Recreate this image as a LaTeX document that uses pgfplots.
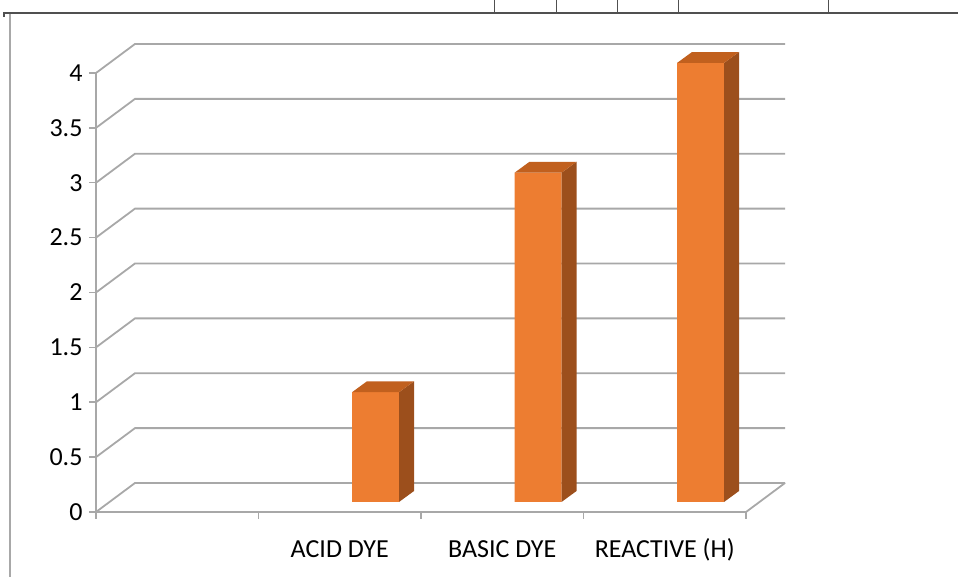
\documentclass[border=0pt]{standalone}
\usepackage{fontspec}
\setmainfont{Carlito}
\usepackage{pgfplots}
\pgfplotsset{compat=1.18}
\definecolor{barfront}{HTML}{ED7D31}
\definecolor{barside}{HTML}{9C4F1C}
\definecolor{bartop}{HTML}{C1601E}
\definecolor{gridc}{HTML}{A8A8A8}
\definecolor{framec}{HTML}{505050}

\begin{document}
\begin{tikzpicture}[x=1pt,y=1pt]
\path[use as bounding box] (0,0) rectangle (958,577);
% table borders round the chart
\draw[line width=1.5pt, framec] (4,564) -- (958,564);
\foreach \x in {494,556,617,678,828} \draw[line width=1pt, framec] (\x,577) -- (\x,564);
\draw[line width=1.5pt, framec] (4,564.75) -- (4,560);
\draw[line width=1.2pt, gridc] (10,563) -- (10,0);

\begin{axis}[
  at={(96pt,65pt)}, anchor=south west,
  x=162.5pt, y=109.75pt,
  xmin=0, xmax=4, ymin=0, ymax=4,
  clip=false,
  axis lines=left,
  axis line style={draw=gridc, line width=1.8pt, -},
  tick align=outside,
  major tick length=7pt,
  tick style={draw=gridc, line width=1.5pt},
  ytick={0,0.5,1,1.5,2,2.5,3,3.5,4},
  xtick={0,1,2,3,4},
  xticklabels={},
  extra x ticks={1.5,2.5,3.5},
  extra x tick labels={ACID DYE, BASIC DYE, REACTIVE (H)},
  extra x tick style={major tick length=0pt, tick style={draw=none}},
  /pgf/number format/assume math mode=true,
  ticklabel style={font=\fontsize{26}{31}\selectfont, text=black},
  yticklabel style={xshift=-3pt},
  xticklabel style={anchor=base, yshift=-46pt},
]
% back wall and floor
\pgfplotsinvokeforeach{0,0.5,1,1.5,2,2.5,3,3.5,4}{
  \draw[gridc, line width=1.8pt] (axis cs:0,#1) -- ++(39pt,29pt) -- ([shift={(39pt,29pt)}]axis cs:4,#1);
}
\draw[gridc, line width=1.8pt] (axis cs:4,0) -- ++(39pt,29pt);

% bars: front faces
\addplot[ybar, bar width=47pt, fill=barfront, draw=none, yshift=10pt]
  coordinates {(1.72,1) (2.72,3) (3.72,4)};
% side faces
\addplot[fill=barside, draw=none, yshift=10pt] coordinates {(1.8646,0) (1.8646,1) (1.9569,1.1) (1.9569,0.1)} -- cycle;
\addplot[fill=barside, draw=none, yshift=10pt] coordinates {(2.8646,0) (2.8646,3) (2.9569,3.1) (2.9569,0.1)} -- cycle;
\addplot[fill=barside, draw=none, yshift=10pt] coordinates {(3.8646,0) (3.8646,4) (3.9569,4.1) (3.9569,0.1)} -- cycle;
% top faces
\addplot[fill=bartop, draw=none, yshift=10pt] coordinates {(1.5754,1) (1.8646,1) (1.9569,1.1) (1.6677,1.1)} -- cycle;
\addplot[fill=bartop, draw=none, yshift=10pt] coordinates {(2.5754,3) (2.8646,3) (2.9569,3.1) (2.6677,3.1)} -- cycle;
\addplot[fill=bartop, draw=none, yshift=10pt] coordinates {(3.5754,4) (3.8646,4) (3.9569,4.1) (3.6677,4.1)} -- cycle;
\end{axis}
\end{tikzpicture}
\end{document}
